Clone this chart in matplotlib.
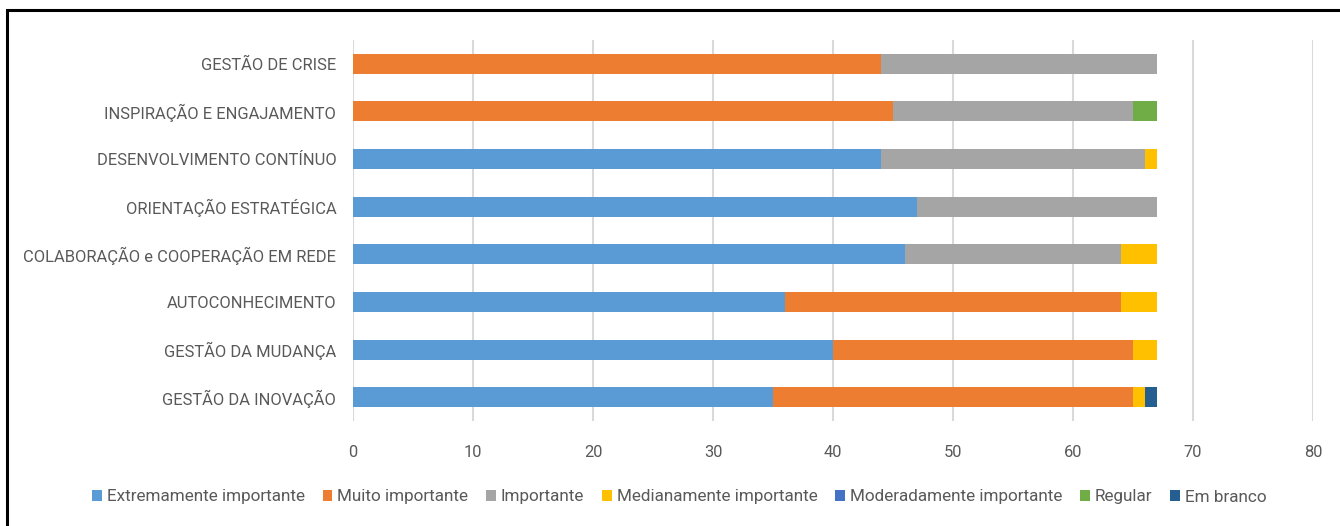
import glob
import matplotlib
matplotlib.use("Agg")
import matplotlib.pyplot as plt
from matplotlib import font_manager
from matplotlib.patches import Rectangle
import numpy as np

categories = [
    "GESTÃO DE CRISE",
    "INSPIRAÇÃO E ENGAJAMENTO",
    "DESENVOLVIMENTO CONTÍNUO",
    "ORIENTAÇÃO ESTRATÉGICA",
    "COLABORAÇÃO e COOPERAÇÃO EM REDE",
    "AUTOCONHECIMENTO",
    "GESTÃO DA MUDANÇA",
    "GESTÃO DA INOVAÇÃO",
]

series_names = [
    "Extremamente importante",
    "Muito importante",
    "Importante",
    "Medianamente importante",
    "Moderadamente importante",
    "Regular",
    "Em branco",
]

extremamente = [0, 0, 44, 47, 46, 36, 40, 35]
muito = [44, 45, 0, 0, 0, 28, 25, 30]
importante = [23, 20, 22, 20, 18, 0, 0, 0]
medianamente = [0, 0, 1, 0, 3, 3, 2, 1]
moderadamente = [0, 0, 0, 0, 0, 0, 0, 0]
regular = [0, 2, 0, 0, 0, 0, 0, 0]
em_branco = [0, 0, 0, 0, 0, 0, 0, 1]

series_values = [extremamente, muito, importante, medianamente,
                 moderadamente, regular, em_branco]
colors = ["#5B9BD5", "#ED7D31", "#A5A5A5", "#FFC000",
          "#4472C4", "#70AD47", "#255E91"]

xticks = [0, 10, 20, 30, 40, 50, 60, 70, 80]

# prefer a condensed face for the labels
for path in glob.glob("/usr/share/fonts/**/*Narrow*.ttf", recursive=True):
    try:
        font_manager.fontManager.addfont(path)
    except Exception:
        pass
available = {f.name for f in font_manager.fontManager.ttflist}
family = "DejaVu Sans"
for cand in ["Liberation Sans Narrow", "Roboto", "Open Sans", "Liberation Sans"]:
    if cand in available:
        family = cand
        break
plt.rcParams["font.family"] = [family, "DejaVu Sans"]

text_color = "#595959"
grid_color = "#D9D9D9"

fig = plt.figure(figsize=(13.4, 5.26), dpi=100)
renderer = fig.canvas.get_renderer()


def size_for_width(text, width_px, ref=14.0):
    t = fig.text(0, 0, text, fontsize=ref)
    w = t.get_window_extent(renderer).width
    t.remove()
    return ref * width_px / w


label_size = size_for_width("COLABORAÇÃO e COOPERAÇÃO EM REDE", 313)
legend_size = size_for_width("Extremamente importante", 200)

ax = fig.add_axes([0.2634, 0.1996, 0.7164, 0.7243])

y = np.arange(len(categories))
left = np.zeros(len(categories))
handles = []
for name, vals, col in zip(series_names, series_values, colors):
    vals = np.array(vals, dtype=float)
    h = ax.barh(y, vals, left=left, height=0.42, color=col, label=name,
                linewidth=0)
    handles.append(h)
    left += vals

ax.set_ylim(len(categories) - 0.5, -0.5)
ax.set_xlim(0, 80)
ax.set_xticks(xticks)
ax.set_yticks(y)
ax.set_yticklabels(categories)
ax.tick_params(axis="both", length=0, labelsize=label_size, colors=text_color)
ax.tick_params(axis="y", pad=12)
ax.tick_params(axis="x", pad=17)
for s in ["top", "right", "bottom", "left"]:
    ax.spines[s].set_visible(False)
ax.set_axisbelow(True)
ax.xaxis.grid(True, color=grid_color, linewidth=1.5)

fig.legend(handles=handles, labels=series_names, loc="center",
           bbox_to_anchor=(0.507, 1 - 497 / 526), ncol=7, frameon=False,
           fontsize=legend_size, handlelength=0.55, handleheight=0.55,
           handletextpad=0.3, columnspacing=1.05, labelcolor=text_color)

# outer chart frame
fig.patches.append(Rectangle((7 / 1340, -0.1), 1.2, 1 - 10 / 526 + 0.1,
                             transform=fig.transFigure, fill=False,
                             edgecolor="black", linewidth=2.2))

fig.savefig("out.png", dpi=100)
